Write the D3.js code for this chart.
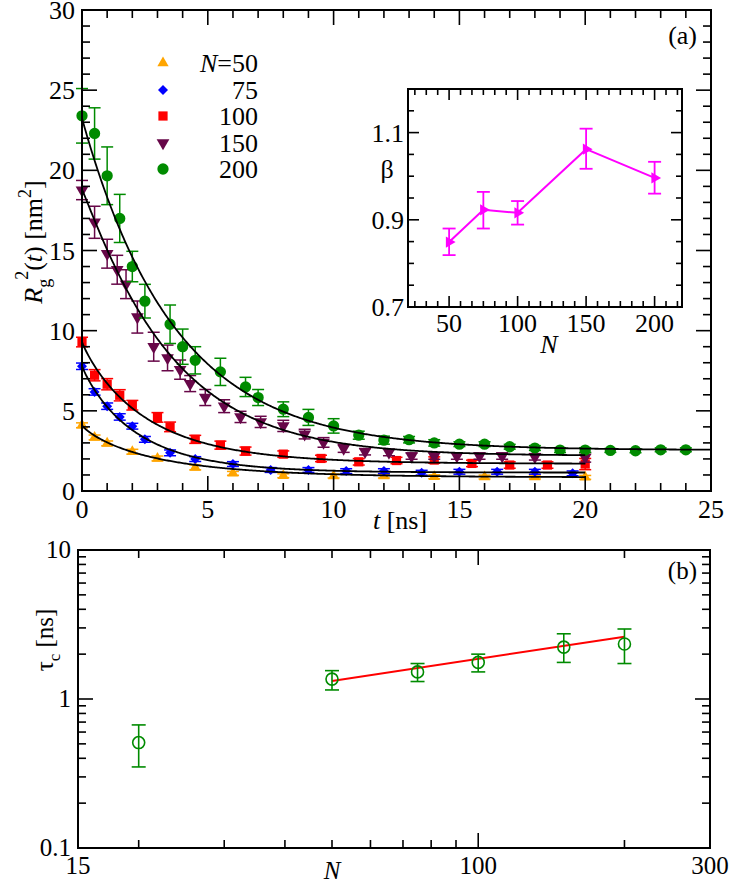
<!DOCTYPE html>
<html>
<head>
<meta charset="utf-8">
<script src="https://cdn.jsdelivr.net/npm/d3@7"></script>
<style>
  body { margin: 0; background: #fff; }
  svg { display: block; }
</style>
</head>
<body>
<svg id="chart" width="729" height="883"></svg>
<script>
// ---- data: panel (a), Rg^2(t) for each chain length ----
const chainLengths = [50, 75, 100, 150, 200];
const seriesColors = ["#ffa500", "#0000ff", "#ff0000", "#670748", "#008b00"];

const t50 = [0, 0.5, 1, 2, 3, 4.5, 6, 8, 10, 12, 14, 16, 18, 20];
const rg50 = [4.1, 3.34, 2.97, 2.45, 2.03, 1.47, 1.1, 0.95, 0.93, 0.93, 0.89, 0.87, 0.87, 0.85];
const err50 = [0.15, 0.15, 0.15, 0.15, 0.15, 0.15, 0.12, 0.12, 0.12, 0.12, 0.12, 0.12, 0.12, 0.12];

const t75 = [0, 0.5, 1, 1.5, 2, 2.5, 3.5, 4.5, 6, 7.5, 9, 10.5, 12, 13.5, 15, 16.5, 18, 19.5];
const rg75 = [7.78, 6.18, 5.29, 4.62, 4.04, 3.22, 2.38, 1.99, 1.68, 1.31, 1.31, 1.24, 1.24, 1.14, 1.2, 1.2, 1.2, 1.1];
const err75 = [0.2, 0.2, 0.2, 0.2, 0.18, 0.18, 0.18, 0.15, 0.15, 0.15, 0.15, 0.15, 0.15, 0.15, 0.15, 0.15, 0.15, 0.15];

const t100 = [0, 0.5, 1, 1.5, 2, 3, 3.5, 4.5, 5.5, 6.5, 8, 9.5, 11, 12.5, 14, 15.5, 17, 18.5, 20];
const rg100 = [9.29, 7.22, 6.66, 5.97, 5.35, 4.59, 4.0, 3.22, 2.86, 2.49, 2.3, 2.03, 1.82, 1.9, 1.93, 1.72, 1.62, 1.62, 1.68];
const err100 = [0.3, 0.35, 0.35, 0.35, 0.3, 0.3, 0.3, 0.25, 0.25, 0.25, 0.2, 0.2, 0.2, 0.2, 0.2, 0.2, 0.2, 0.2, 0.35];

const t150 = [0, 0.5, 1, 1.4, 1.75, 2.2, 2.85, 3.4, 3.9, 4.3, 4.9, 5.65, 6.3, 7.1, 8, 8.85, 9.6, 10.4, 11.25, 12.2, 13.1, 14, 14.9, 15.8, 16.7, 18, 20];
const rg150 = [18.77, 16.76, 14.8, 13.8, 12.9, 10.85, 9.0, 8.3, 7.57, 6.7, 5.83, 5.29, 4.62, 4.31, 4.06, 3.55, 3.03, 2.66, 2.45, 2.4, 2.18, 2.18, 2.18, 2.18, 2.18, 2.13, 2.1];
const err150 = [0.6, 1.0, 0.9, 0.9, 0.9, 1.0, 0.9, 0.8, 0.6, 0.5, 0.5, 0.4, 0.35, 0.35, 0.35, 0.3, 0.3, 0.25, 0.2, 0.2, 0.2, 0.2, 0.2, 0.2, 0.2, 0.2, 0.3];

const t200 = [0, 0.5, 1, 1.5, 2, 2.5, 3.5, 4, 4.5, 5.5, 6.5, 7, 8, 9, 10, 11, 12, 13, 14, 15, 16, 17, 18, 19, 20, 21, 22, 23, 24];
const rg200 = [23.4, 22.3, 19.66, 17.0, 14.0, 11.84, 10.4, 9.0, 8.15, 7.43, 6.49, 5.83, 5.1, 4.59, 4.06, 3.48, 3.17, 3.2, 3.0, 2.92, 2.92, 2.76, 2.68, 2.55, 2.55, 2.53, 2.51, 2.57, 2.57];
const err200 = [1.7, 1.6, 1.8, 1.5, 0.95, 1.05, 1.2, 1.1, 0.85, 0.85, 0.6, 0.5, 0.46, 0.5, 0.45, 0.25, 0.25, 0.2, 0.2, 0.15, 0.15, 0.15, 0.15, 0.15, 0.15, 0.12, 0.12, 0.12, 0.12];

// stretched exponential fits: C + A exp(-(t/tau)^beta)
const fitA = [3.25, 6.65, 7.6, 16.6, 20.7];
const fitTau = [2.95, 2.19, 2.6, 3.6, 3.7];
const fitC = [0.85, 1.15, 1.7, 2.2, 2.55];
const fitEnd = [20, 20, 20, 20, 25];

// ---- inset: beta vs N ----
const betaN = [50, 75, 100, 150, 200];
const betaVal = [0.849, 0.923, 0.916, 1.062, 0.996];
const betaLo = [0.819, 0.88, 0.889, 1.017, 0.96];
const betaHi = [0.88, 0.964, 0.943, 1.109, 1.033];

// ---- panel (b): tau_c vs N ----
const tauN = [20, 50, 75, 100, 150, 200];
const tauVal = [0.51, 1.36, 1.52, 1.76, 2.23, 2.34];
const tauLo = [0.35, 1.15, 1.31, 1.52, 1.76, 1.73];
const tauHi = [0.67, 1.55, 1.73, 2.0, 2.74, 2.95];
const powerFitN = [50, 200];
const powerFitTau = [1.32, 2.62];

const times = [t50, t75, t100, t150, t200];
const rgs = [rg50, rg75, rg100, rg150, rg200];
const errs = [err50, err75, err100, err150, err200];

// marker shapes per series
const markers = [
  { type: d3.symbolTriangle, size: 55, rot: 0 },
  { type: d3.symbolSquare, size: 50, rot: 45 },
  { type: d3.symbolSquare, size: 85, rot: 0 },
  { type: d3.symbolTriangle, size: 70, rot: 180 },
  { type: d3.symbolCircle, size: 100, rot: 0 }
];

const FONT = "Liberation Serif";
const svg = d3.select("#chart");

// ticks on all four sides of a frame, pointing inward
function frameTicks(g, x, y, xMaj, xMin, yMaj, yMin, majLen, minLen) {
  const [xl, xr] = x.range();
  const [yb, yt] = y.range();
  const tk = g.append("g").attr("stroke", "#000").attr("stroke-width", 1.6);
  [[xMaj, majLen], [xMin, minLen]].forEach(([vals, len]) => {
    vals.forEach(v => {
      const px = x(v);
      tk.append("line").attr("x1", px).attr("x2", px).attr("y1", yb).attr("y2", yb - len);
      tk.append("line").attr("x1", px).attr("x2", px).attr("y1", yt).attr("y2", yt + len);
    });
  });
  [[yMaj, majLen], [yMin, minLen]].forEach(([vals, len]) => {
    vals.forEach(v => {
      const py = y(v);
      tk.append("line").attr("y1", py).attr("y2", py).attr("x1", xl).attr("x2", xl + len);
      tk.append("line").attr("y1", py).attr("y2", py).attr("x1", xr).attr("x2", xr - len);
    });
  });
  g.append("rect").attr("x", xl).attr("y", yt).attr("width", xr - xl).attr("height", yb - yt)
    .attr("fill", "none").attr("stroke", "#000").attr("stroke-width", 2);
}

function errorBars(g, xs, ys, lo, hi, x, y, color, cap, width) {
  const eb = g.append("g").attr("stroke", color).attr("stroke-width", width);
  xs.forEach((v, i) => {
    const px = x(v);
    eb.append("line").attr("x1", px).attr("x2", px).attr("y1", y(lo[i])).attr("y2", y(hi[i]));
    eb.append("line").attr("x1", px - cap / 2).attr("x2", px + cap / 2).attr("y1", y(lo[i])).attr("y2", y(lo[i]));
    eb.append("line").attr("x1", px - cap / 2).attr("x2", px + cap / 2).attr("y1", y(hi[i])).attr("y2", y(hi[i]));
  });
}

// plain text helper so every label gets the serif face
function label(g, x, y, size, str, anchor) {
  return g.append("text").attr("x", x).attr("y", y)
    .attr("font-family", FONT).attr("font-size", size)
    .attr("text-anchor", anchor || "middle").attr("fill", "#000").text(str);
}

// ================= panel (a) =================
const xA = d3.scaleLinear().domain([0, 25]).range([82, 711]);
const yA = d3.scaleLinear().domain([0, 30]).range([491, 10]);
const gA = svg.append("g");

const fitLine = d3.line().x(d => xA(d[0])).y(d => yA(d[1]));

chainLengths.forEach((n, s) => {
  const lo = rgs[s].map((v, i) => v - errs[s][i]);
  const hi = rgs[s].map((v, i) => v + errs[s][i]);
  errorBars(gA, times[s], rgs[s], lo, hi, xA, yA, seriesColors[s], 12, 1.5);
  const m = markers[s];
  gA.append("g").selectAll("path").data(times[s]).join("path")
    .attr("d", d3.symbol(m.type, m.size))
    .attr("transform", (d, i) => `translate(${xA(d)},${yA(rgs[s][i])}) rotate(${m.rot})`)
    .attr("fill", seriesColors[s]);
});

chainLengths.forEach((n, s) => {
  const pts = d3.range(0, fitEnd[s] + 0.001, 0.05).map(t =>
    [t, fitC[s] + fitA[s] * Math.exp(-Math.pow(t / fitTau[s], betaVal[s]))]);
  gA.append("path").attr("d", fitLine(pts)).attr("fill", "none")
    .attr("stroke", "#000").attr("stroke-width", 1.8);
});

frameTicks(gA, xA, yA, d3.range(0, 26, 5), d3.range(0, 26, 1).filter(v => v % 5),
  d3.range(0, 31, 5), d3.range(0, 31, 1).filter(v => v % 5), 15, 8);

d3.range(0, 26, 5).forEach(v => label(gA, xA(v), 518, 26, v));
d3.range(0, 31, 5).forEach(v => label(gA, 75, yA(v) + 9, 26, v, "end"));

// axis titles
const xTitle = label(gA, 400, 529, 26, null);
xTitle.append("tspan").attr("font-style", "italic").text("t");
xTitle.append("tspan").text(" [ns]");

const yTitle = label(gA, 0, 0, 26, null).attr("transform", "translate(42,242) rotate(-90)");
yTitle.append("tspan").attr("font-style", "italic").text("R");
yTitle.append("tspan").attr("font-size", 18).attr("dy", 8).text("g");
yTitle.append("tspan").attr("font-size", 18).attr("dx", -1).attr("dy", -22).text("2");
yTitle.append("tspan").attr("dy", 14).text("(");
yTitle.append("tspan").attr("font-style", "italic").text("t");
yTitle.append("tspan").text(") [nm");
yTitle.append("tspan").attr("font-size", 18).attr("dy", -11).text("2");
yTitle.append("tspan").attr("dy", 11).text("]");

label(gA, 697, 44, 26, "(a)", "end");

// legend
const legendY = [63, 90, 116, 143, 169];
chainLengths.forEach((n, s) => {
  const m = markers[s];
  gA.append("path").attr("d", d3.symbol(m.type, m.size)())
    .attr("transform", `translate(163,${legendY[s]}) rotate(${m.rot})`)
    .attr("fill", seriesColors[s]);
  const t = label(gA, 258, legendY[s] + 9, 26, s === 0 ? null : n, "end");
  if (s === 0) {
    t.append("tspan").attr("font-style", "italic").text("N");
    t.append("tspan").text("=" + n);
  }
});

// ================= inset =================
const xI = d3.scaleLinear().domain([20, 220]).range([408, 682]);
const yI = d3.scaleLinear().domain([0.7, 1.2]).range([307, 89]);
const gI = svg.append("g");
gI.append("rect").attr("x", 408).attr("y", 89).attr("width", 274).attr("height", 218).attr("fill", "#fff");

const insetMinorX = d3.range(25, 220, 50 / 6).filter(v => Math.abs(v % 50) > 0.5 && Math.abs(v % 50 - 50) > 0.5);
frameTicks(gI, xI, yI, [50, 100, 150, 200], insetMinorX,
  [0.7, 0.9, 1.1], [0.75, 0.8, 0.85, 0.95, 1.0, 1.05, 1.15], 11, 6);

errorBars(gI, betaN, betaVal, betaLo, betaHi, xI, yI, "#ff00ff", 13, 1.8);
gI.append("path").datum(betaN)
  .attr("d", d3.line().x(d => xI(d)).y((d, i) => yI(betaVal[i])))
  .attr("fill", "none").attr("stroke", "#ff00ff").attr("stroke-width", 2);
gI.append("g").selectAll("path").data(betaN).join("path")
  .attr("d", d3.symbol(d3.symbolTriangle, 55))
  .attr("transform", (d, i) => `translate(${xI(d)},${yI(betaVal[i])}) rotate(90)`)
  .attr("fill", "#ff00ff");

[50, 100, 150, 200].forEach(v => label(gI, xI(v), 332, 26, v));
[0.7, 0.9, 1.1].forEach(v => label(gI, 404, yI(v) + 9, 26, v.toFixed(1), "end"));
label(gI, 387, 178, 26, "β");
label(gI, 549, 353, 26, "N").attr("font-style", "italic");

// ================= panel (b) =================
const xB = d3.scaleLog().domain([15, 300]).range([78, 710]);
const yB = d3.scaleLog().domain([0.1, 10]).range([848, 550]);
const gB = svg.append("g");

frameTicks(gB, xB, yB, [100], [20, 30, 40, 50, 60, 70, 80, 90, 200],
  [0.1, 1, 10], [0.2, 0.3, 0.4, 0.5, 0.6, 0.7, 0.8, 0.9, 2, 3, 4, 5, 6, 7, 8, 9], 15, 8);

gB.append("path").datum(powerFitN)
  .attr("d", d3.line().x(d => xB(d)).y((d, i) => yB(powerFitTau[i])))
  .attr("stroke", "#ff0000").attr("stroke-width", 2).attr("fill", "none");
errorBars(gB, tauN, tauVal, tauLo, tauHi, xB, yB, "#008b00", 14, 1.6);
gB.append("g").selectAll("circle").data(tauN).join("circle")
  .attr("cx", d => xB(d)).attr("cy", (d, i) => yB(tauVal[i])).attr("r", 6)
  .attr("fill", "none").attr("stroke", "#008b00").attr("stroke-width", 1.6);

[15, 100, 300].forEach(v => label(gB, xB(v), 874, 25, v));
[0.1, 1, 10].forEach(v => label(gB, 71, yB(v) + 8, 25, v, "end"));
label(gB, 332, 879, 25, "N").attr("font-style", "italic");

const tauTitle = label(gB, 0, 0, 25, null).attr("transform", "translate(53,640) rotate(-90)");
tauTitle.append("tspan").text("τ");
tauTitle.append("tspan").attr("font-size", 17).attr("dy", 7).text("c");
tauTitle.append("tspan").attr("dy", -7).text(" [ns]");

label(gB, 697, 579, 25, "(b)", "end");
</script>
</body>
</html>
